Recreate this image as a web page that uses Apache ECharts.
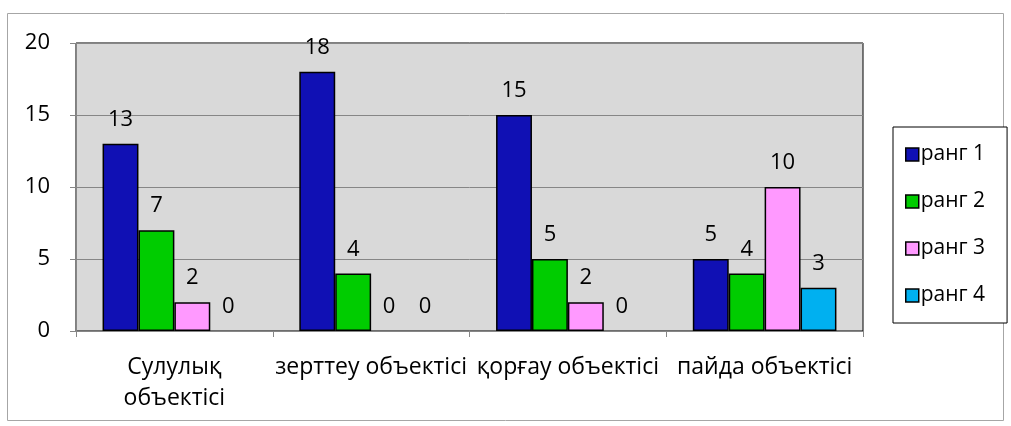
<!DOCTYPE html>
<html><head><meta charset="utf-8">
<script src="https://cdn.jsdelivr.net/npm/echarts@6/dist/echarts.min.js"></script>
<style>html,body{margin:0;padding:0;background:#fff}#c{width:1011px;height:426px}</style>
</head><body><div id="c"></div>
<script>
const categories = ['Сулулық\nобъектісі', 'зерттеу объектісі', 'қорғау объектісі', 'пайда объектісі'];
const seriesNames = ['ранг 1', 'ранг 2', 'ранг 3', 'ранг 4'];
const rank1 = [13, 18, 15, 5];
const rank2 = [7, 4, 5, 4];
const rank3 = [2, 0, 2, 10];
const rank4 = [0, 0, 0, 3];
const colors = ['#1010B4', '#00CC00', '#FF99FF', '#00B0F0'];
const values = [rank1, rank2, rank3, rank4];
const font = 'Open Sans';
const fs = 23;
const chart = echarts.init(document.getElementById('c'), null, {renderer: 'canvas'});
chart.setOption({
  animation: false,
  textStyle: {fontFamily: font},
  graphic: [{type: 'rect', shape: {x: 7.5, y: 13.5, width: 996, height: 407}, style: {fill: 'none', stroke: '#A6A6A6', lineWidth: 1}, z: -10}],
  grid: {left: 76, right: 148, top: 43, bottom: 95, show: true, backgroundColor: '#D9D9D9', borderColor: '#000', borderWidth: 1},
  legend: {
    orient: 'vertical', left: 893, top: 127,
    padding: [15, 22, 15, 12], itemGap: 22, itemWidth: 13, itemHeight: 13,
    borderColor: '#000', borderWidth: 1, backgroundColor: '#fff',
    icon: 'rect',
    textStyle: {fontSize: 21, lineHeight: 25, color: '#000', fontFamily: font, padding: [0,0,0,-3]},
    data: seriesNames.map(n => ({name: n, itemStyle: {borderColor: '#000', borderWidth: 1.5}}))
  },
  xAxis: {
    type: 'category', data: categories,
    axisLine: {lineStyle: {color: '#868686'}},
    axisTick: {show: true, alignWithLabel: false, length: 6, lineStyle: {color: '#868686'}},
    axisLabel: {fontSize: fs, color: '#000', margin: 21, lineHeight: 31, fontFamily: font, interval: 0}
  },
  yAxis: {
    type: 'value', min: 0, max: 20, interval: 5,
    axisLine: {show: true, lineStyle: {color: '#868686'}},
    axisTick: {show: true, length: 6, lineStyle: {color: '#868686'}},
    splitLine: {lineStyle: {color: '#868686'}},
    axisLabel: {fontSize: 22, color: '#000', margin: 26, fontFamily: font}
  },
  series: seriesNames.map((n, i) => ({
    name: n, type: 'bar',
    data: values[i].map(v => v === 0 ? {value: v, itemStyle: {borderWidth: 0}} : v),
    barGap: '0%', barCategoryGap: '27%',
    itemStyle: {color: colors[i], borderColor: '#000', borderWidth: 1.5},
    label: {show: true, position: 'top', distance: 13, fontSize: 22, color: '#000', fontFamily: font}
  }))
});
</script></body></html>
